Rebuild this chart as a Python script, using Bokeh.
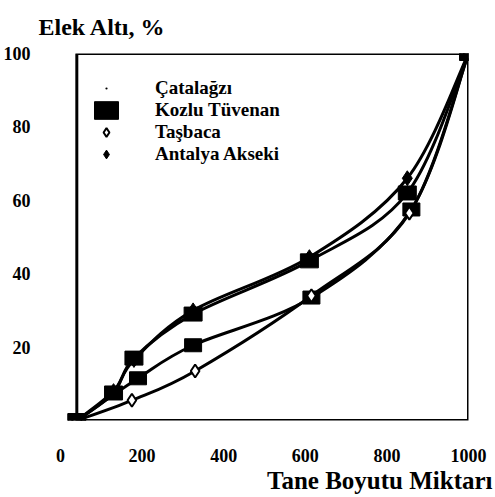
from bokeh.plotting import figure
from bokeh.models import (Range1d, FixedTicker, Legend, LegendItem, Title,
                          ColumnDataSource, BoxAnnotation)
from bokeh.embed import file_html
from bokeh.resources import INLINE

FONT = "Liberation Serif"

# ---- data ----
x_catalagzi = [40, 190, 325, 615, 860, 1000]
y_catalagzi = [0, 11.5, 20.5, 33.5, 57.5, 100]

x_kozlu = [40, 130, 180, 325, 610, 850, 1000]
y_kozlu = [0, 7.5, 17, 29, 43.5, 62, 100]

x_tasbaca = [40, 175, 330, 615, 855, 1000]
y_tasbaca = [0, 5.5, 13.5, 34, 56.5, 100]

x_antalya = [40, 130, 180, 325, 610, 850, 1000]
y_antalya = [0, 8, 16.5, 30, 44.5, 66, 100]

x_ticks = [0, 200, 400, 600, 800, 1000]
y_ticks = [20, 40, 60, 80, 100]

series_names = ["Çatalağzı", "Kozlu Tüvenan", "Taşbaca", "Antalya Akseki"]

# frame box of the original chart (data units)
box_left, box_right, box_bottom, box_top = 40, 1000, 0, 100


def bezier_source(xs, ys):
    """Catmull-Rom smoothing expressed as cubic Bezier segments."""
    n = len(xs)
    d = dict(x0=[], y0=[], x1=[], y1=[], cx0=[], cy0=[], cx1=[], cy1=[])
    for i in range(n - 1):
        xa, ya = (xs[i - 1], ys[i - 1]) if i > 0 else (xs[i], ys[i])
        xb, yb = xs[i], ys[i]
        xc, yc = xs[i + 1], ys[i + 1]
        xd, yd = (xs[i + 2], ys[i + 2]) if i + 2 < n else (xs[i + 1], ys[i + 1])
        d["x0"].append(xb); d["y0"].append(yb)
        d["x1"].append(xc); d["y1"].append(yc)
        d["cx0"].append(xb + (xc - xa) / 6.0); d["cy0"].append(yb + (yc - ya) / 6.0)
        d["cx1"].append(xc - (xd - xb) / 6.0); d["cy1"].append(yc - (yd - yb) / 6.0)
    return ColumnDataSource(d)


p = figure(width=495, height=497, x_range=Range1d(0, 1000), y_range=Range1d(0, 100),
           toolbar_location=None, output_backend="svg",
           min_border_left=60, min_border_right=27, min_border_top=53, min_border_bottom=77)

p.background_fill_color = "white"
p.border_fill_color = "white"
p.outline_line_color = None
p.xgrid.visible = False
p.ygrid.visible = False

p.add_layout(BoxAnnotation(left=box_left, right=box_right, bottom=box_bottom, top=box_top,
                           fill_alpha=0, line_color="black", line_width=3, line_alpha=1))

# axes
for ax in (p.xaxis[0], p.yaxis[0]):
    ax.axis_line_color = None
    ax.minor_tick_line_color = None
    ax.major_tick_line_color = None
    ax.major_label_text_font = FONT
    ax.major_label_text_font_style = "bold"
    ax.major_label_text_font_size = "18px"
    ax.major_label_text_color = "black"

p.xaxis.ticker = FixedTicker(ticks=x_ticks)
p.xaxis.major_label_standoff = 22

p.yaxis.ticker = FixedTicker(ticks=y_ticks)
p.yaxis.major_label_standoff = 24

# titles
p.title.text = "Elek Altı, %"
p.title.align = "left"
p.title.vertical_align = "top"
p.title.offset = -22
p.title.standoff = 24
p.title.text_font = FONT
p.title.text_font_style = "bold"
p.title.text_font_size = "24px"
p.title.text_color = "black"

p.add_layout(Title(text="Tane Boyutu Miktarı", align="right", offset=-24, standoff=0,
                   text_font=FONT, text_font_style="bold", text_font_size="25px",
                   text_color="black"), "below")

# smooth curves
for xs, ys in [(x_catalagzi, y_catalagzi), (x_kozlu, y_kozlu),
               (x_tasbaca, y_tasbaca), (x_antalya, y_antalya)]:
    p.bezier(x0="x0", y0="y0", x1="x1", y1="y1", cx0="cx0", cy0="cy0", cx1="cx1",
             cy1="cy1", source=bezier_source(xs, ys), line_color="black", line_width=3)

# markers
cat_dot = p.scatter(x_catalagzi, y_catalagzi, marker="dot", size=8, color="black")
cat_sq = p.rect(x_catalagzi, y_catalagzi, width=17, height=13, width_units="screen",
                height_units="screen", fill_color="black", line_color="black")
koz_sq = p.rect(x_kozlu, y_kozlu, width=18, height=14, width_units="screen",
                height_units="screen", fill_color="black", line_color="black")
tas_d = p.scatter(x_tasbaca, y_tasbaca, marker="diamond", size=13, fill_color="white",
                  line_color="black", line_width=2)
ant_d = p.scatter(x_antalya, y_antalya, marker="diamond", size=15, fill_color="black",
                  line_color="black")

legend = Legend(items=[LegendItem(label=series_names[0], renderers=[cat_dot]),
                       LegendItem(label=series_names[1], renderers=[koz_sq]),
                       LegendItem(label=series_names[2], renderers=[tas_d]),
                       LegendItem(label=series_names[3], renderers=[ant_d])],
                location=(31, 255))
legend.border_line_color = None
legend.background_fill_alpha = 0
legend.padding = 0
legend.margin = 0
legend.spacing = 0
legend.glyph_width = 30
legend.glyph_height = 22
legend.label_height = 22
legend.label_standoff = 34
legend.label_text_font = FONT
legend.label_text_font_style = "bold"
legend.label_text_font_size = "19px"
legend.label_text_color = "black"
p.add_layout(legend, "center")

open("out.html", "w").write(file_html(p, INLINE))
